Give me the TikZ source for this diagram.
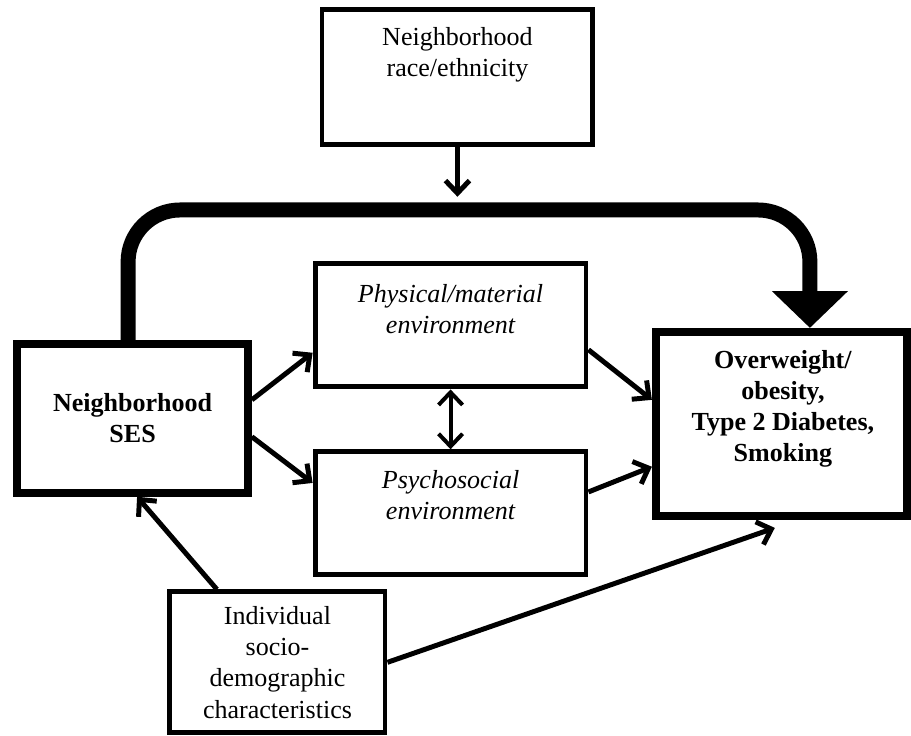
\documentclass[tikz,border=0pt]{standalone}
\usepackage{fontspec}
\setmainfont{Liberation Serif}
\usetikzlibrary{arrows.meta}

\newcommand{\diagfont}{\fontsize{24.7pt}{29.6pt}\selectfont}

\tikzset{
  box/.style={draw, line width=4.7pt, inner sep=0pt, font=\diagfont},
  boxtext/.style={align=center, inner sep=0pt, anchor=north, font=\diagfont},
  link/.style={line width=4.7pt, ->},
  >={Straight Barb[length=0.42cm, width=0.8cm]},
}

\begin{document}
\begin{tikzpicture}
  \useasboundingbox (0,0) rectangle (30.37,24.53);

  % race/ethnicity on top
  \node[box, minimum width=9.03cm, minimum height=4.5cm] (race) at (15.25,21.95) {};
  \node[boxtext] (racetext) at (15.25,23.63) {Neighborhood\\race/ethnicity};

  % neighborhood SES
  \node[box, line width=7.1pt, minimum width=7.7cm, minimum height=4.97cm,
        align=center, font=\diagfont\bfseries] (ses) at (4.42,10.58) {Neighborhood\\SES};

  % the two environments
  \node[box, minimum width=9.03cm, minimum height=4.1cm] (phys) at (15.02,13.68) {};
  \node[boxtext, font=\diagfont\itshape] (phystext) at (15.02,15.07) {Physical/material\\environment};
  \node[box, minimum width=9.03cm, minimum height=4.1cm] (psych) at (15.02,7.42) {};
  \node[boxtext, font=\diagfont\itshape] (psychtext) at (15.02,8.87) {Psychosocial\\environment};

  % outcomes
  \node[box, line width=7.6pt, minimum width=8.37cm, minimum height=6.13cm] (out) at (26.05,10.40) {};
  \node[boxtext, font=\diagfont\bfseries] (outtext) at (26.1,12.87)
    {Overweight/\\obesity,\\Type 2 Diabetes,\\Smoking};

  % individual characteristics
  \node[box, minimum width=7.17cm, minimum height=4.7cm, align=center] (indiv) at (9.25,2.45)
    {Individual\\socio-\\demographic\\characteristics};

  \coordinate (merge) at (15.25,17.97);
  \coordinate (turn) at (27.0,17.53);

  % big path SES -> outcomes
  \draw[line width=14.2pt, rounded corners=1.73cm, -{Triangle[length=1.23cm, width=2.47cm]}]
    ([xshift=-0.15cm]ses.north) |- (turn) -- ([xshift=0.95cm]out.north);
  \draw[link] (race) -- (merge);

  \draw[link] ([yshift=0.62cm]ses.east) -- ([yshift=-0.91cm]phys.west);
  \draw[link] ([yshift=-0.61cm]ses.east) -- ([yshift=1.01cm]psych.west);
  \draw[link] ([yshift=-0.81cm]phys.east) -- ([yshift=0.8cm]out.west);
  \draw[link] ([yshift=0.71cm]psych.east) -- ([yshift=-1.43cm]out.west);
  \draw[link, line width=3.8pt, <->] (phys.south) -- (psych.north);
  \draw[link] ([xshift=-2.02cm]indiv.north) -- ([xshift=0.15cm]ses.south);
  \draw[link] (indiv.east) -- ([xshift=-0.22cm, yshift=-0.27cm]out.south);
\end{tikzpicture}
\end{document}
